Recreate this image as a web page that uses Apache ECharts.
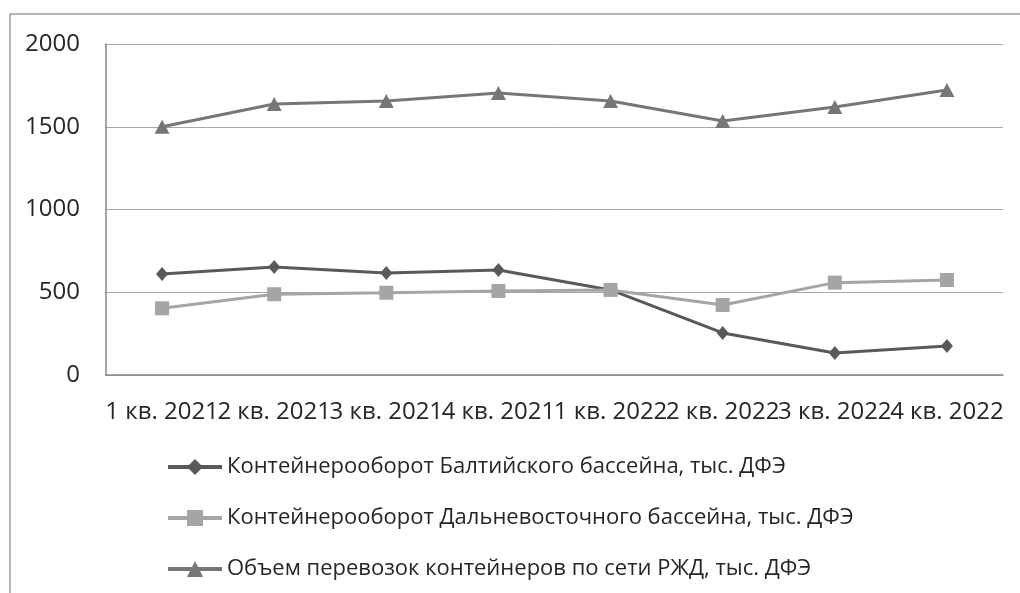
<!DOCTYPE html>
<html>
<head>
<meta charset="utf-8">
<script src="https://cdn.jsdelivr.net/npm/echarts@6/dist/echarts.min.js"></script>
<style>
  html, body { margin: 0; padding: 0; background: #fff; }
  #chart { width: 1020px; height: 593px; }
</style>
</head>
<body>
<div id="chart"></div>
<script>
const categories = ['1 кв. 2021', '2 кв. 2021', '3 кв. 2021', '4 кв. 2021', '1 кв. 2022', '2 кв. 2022', '3 кв. 2022', '4 кв. 2022'];
const baltic = [610, 653, 616, 634, 514, 254, 133, 175];
const farEast = [403, 488, 497, 508, 514, 423, 558, 574];
const rzd = [1500, 1637, 1655, 1704, 1655, 1535, 1619, 1722];
const yTicks = { min: 0, max: 2000, interval: 500 };

const FONT = '"Open Sans", sans-serif';
const TXT = '#262626';

const chart = echarts.init(document.getElementById('chart'));

function lineSeries(name, data, color, symbol, size) {
  return {
    name: name,
    type: 'line',
    data: data,
    symbol: symbol,
    symbolSize: size,
    lineStyle: { color: color, width: 3 },
    itemStyle: { color: color },
    z: 3
  };
}

const option = {
  animation: false,
  graphic: [{
    type: 'rect',
    shape: { x: 10, y: 14, width: 1030, height: 600 },
    style: { fill: 'none', stroke: '#9f9f9f', lineWidth: 1.5 },
    z: -1
  }],
  grid: { left: 106, right: 17, top: 44, bottom: 218 },
  legend: {
    orient: 'vertical',
    left: 166,
    top: 456,
    padding: 0,
    itemWidth: 54,
    itemHeight: 20,
    itemGap: 29,
    lineStyle: { width: 4 },
    textStyle: { fontFamily: FONT, fontSize: 22, color: TXT },
    data: ['Контейнерооборот Балтийского бассейна, тыс. ДФЭ',
           'Контейнерооборот Дальневосточного бассейна, тыс. ДФЭ',
           'Объем перевозок контейнеров по сети РЖД, тыс. ДФЭ']
  },
  xAxis: {
    type: 'category',
    data: categories,
    boundaryGap: true,
    axisLine: { lineStyle: { color: '#868686', width: 1.5 } },
    axisTick: { show: false },
    axisLabel: { interval: 0, margin: 25, fontFamily: FONT, fontSize: 24, color: TXT }
  },
  yAxis: {
    type: 'value',
    min: yTicks.min,
    max: yTicks.max,
    interval: yTicks.interval,
    axisLine: { show: true, lineStyle: { color: '#868686', width: 1.5 } },
    axisTick: { show: false },
    splitLine: { lineStyle: { color: '#a6a6a6', width: 1 } },
    axisLabel: { margin: 26, fontFamily: FONT, fontSize: 24, color: TXT, formatter: (v) => String(v) }
  },
  series: [
    lineSeries('Контейнерооборот Балтийского бассейна, тыс. ДФЭ', baltic, '#595959', 'diamond', [12, 14]),
    lineSeries('Контейнерооборот Дальневосточного бассейна, тыс. ДФЭ', farEast, '#a5a5a5', 'rect', 14),
    lineSeries('Объем перевозок контейнеров по сети РЖД, тыс. ДФЭ', rzd, '#767676', 'triangle', [15, 14])
  ]
};

chart.setOption(option);
</script>
</body>
</html>
